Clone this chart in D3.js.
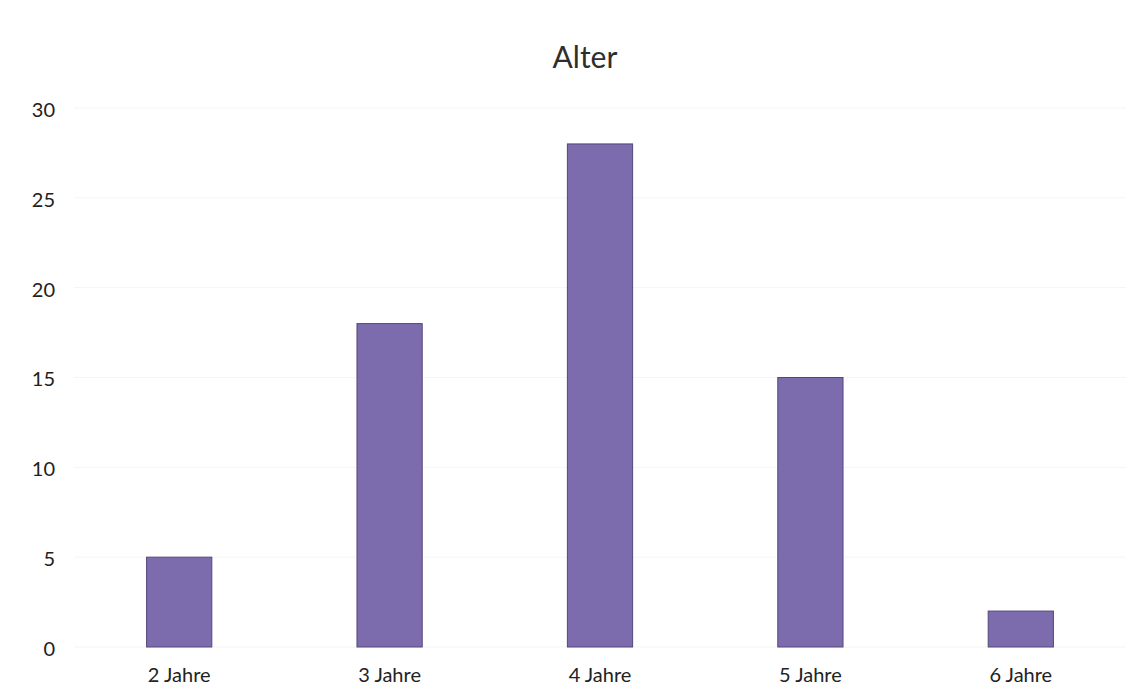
<!DOCTYPE html>
<html>
<head>
<meta charset="utf-8">
<script src="https://cdn.jsdelivr.net/npm/d3@7"></script>
<style>
  html, body { margin: 0; padding: 0; background: #ffffff; }
  svg { display: block; }
  text { font-family: Lato, "Open Sans", sans-serif; }
</style>
</head>
<body>
<svg id="chart" width="1145" height="686"></svg>
<script>
// Age distribution
const title = "Alter";
const categories = ["2 Jahre", "3 Jahre", "4 Jahre", "5 Jahre", "6 Jahre"];
const counts = [5, 18, 28, 15, 2];
const yTicks = [0, 5, 10, 15, 20, 25, 30];

const svg = d3.select("#chart");
const W = 1145, H = 686;
const margin = { top: 108, right: 19, bottom: 39, left: 74 };
const font = "Lato, 'Open Sans', sans-serif";

const x = d3.scaleBand()
  .domain(categories)
  .range([margin.left, W - margin.right])
  .paddingInner(0.69)
  .paddingOuter(0.345);

const y = d3.scaleLinear()
  .domain([0, 30])
  .range([H - margin.bottom, margin.top]);

// faint horizontal gridlines
svg.append("g")
  .selectAll("line")
  .data(yTicks)
  .join("line")
  .attr("x1", margin.left)
  .attr("x2", W - margin.right)
  .attr("y1", d => y(d))
  .attr("y2", d => y(d))
  .attr("stroke", "#f5f5f5")
  .attr("stroke-width", 1);

// bars
svg.append("g")
  .selectAll("rect")
  .data(categories.map((c, i) => ({ c, v: counts[i] })))
  .join("rect")
  .attr("x", d => x(d.c))
  .attr("y", d => y(d.v))
  .attr("width", x.bandwidth())
  .attr("height", d => y(0) - y(d.v))
  .attr("fill", "#7c6cae")
  .attr("stroke", "#54477a")
  .attr("stroke-width", 1);

// y axis labels
const yAxis = d3.axisLeft(y).tickValues(yTicks).tickSize(0).tickPadding(0);
svg.append("g")
  .attr("transform", `translate(${55},2)`)
  .call(yAxis)
  .call(g => g.select(".domain").remove())
  .call(g => g.selectAll("text")
    .attr("font-size", 20)
    .attr("fill", "#222222")
    .style("font-family", font));

// x axis labels
const xAxis = d3.axisBottom(x).tickSize(0).tickPadding(0);
svg.append("g")
  .attr("transform", `translate(0,${682})`)
  .call(xAxis)
  .call(g => g.select(".domain").remove())
  .call(g => g.selectAll("text")
    .attr("dy", 0)
    .attr("font-size", 20)
    .attr("fill", "#222222")
    .style("font-family", font));

// title
svg.append("text")
  .attr("x", 585)
  .attr("y", 68)
  .attr("text-anchor", "middle")
  .attr("font-size", 30)
  .attr("fill", "#2e2e2e")
  .style("font-family", font)
  .text(title);
</script>
</body>
</html>
